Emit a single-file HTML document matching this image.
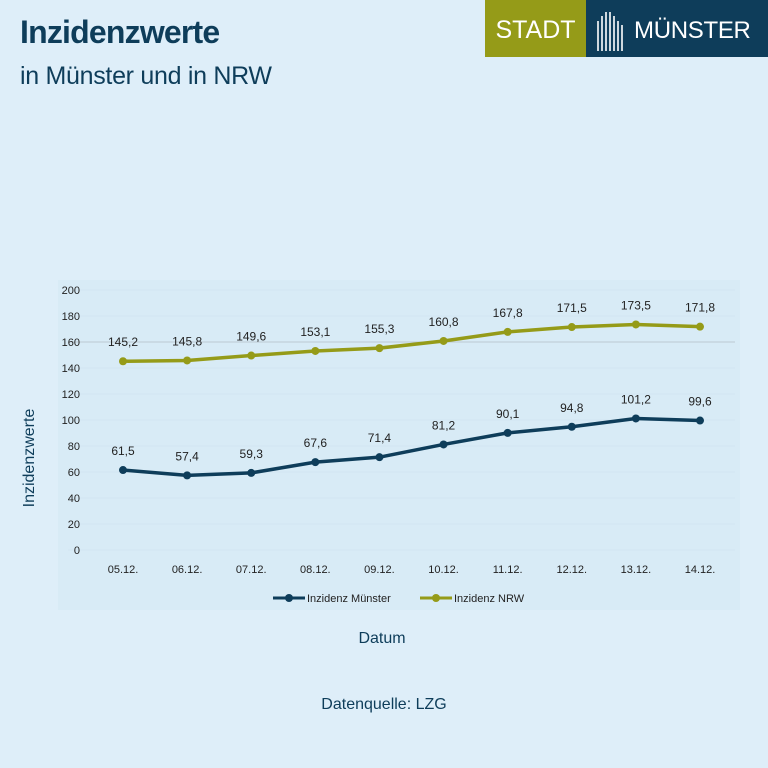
<!DOCTYPE html>
<html><head><meta charset="utf-8">
<style>
body{margin:0;width:768px;height:768px;background:#deeef9;font-family:"Liberation Sans",sans-serif;overflow:hidden;position:relative;color:#0e3d5a}
.abs{position:absolute}
</style></head><body>
<div class="abs" style="left:20px;top:14px;font-size:32px;font-weight:bold;color:#0e3d5a;letter-spacing:-0.8px">Inzidenzwerte</div>
<div class="abs" style="left:20px;top:62px;font-size:25px;color:#0e3d5a;letter-spacing:-0.3px">in Münster und in NRW</div>
<div class="abs" style="left:485px;top:0;width:283px;height:57px;display:flex">
  <div style="width:101px;background:#959b18;color:#fff;font-size:25px;display:flex;align-items:center;justify-content:center;padding-top:4px;box-sizing:border-box">STADT</div>
  <div style="flex:1;background:#0e3d5a;color:#fff;font-size:24px;display:flex;align-items:center;padding-top:4px;box-sizing:border-box;letter-spacing:-0.3px">
    <svg width="34" height="40" style="margin:0 6px 0 8px"><g stroke="#fff" stroke-width="1.6"><line x1="4" y1="10" x2="4" y2="40"/><line x1="8" y1="5" x2="8" y2="40"/><line x1="12" y1="1" x2="12" y2="40"/><line x1="16" y1="1" x2="16" y2="40"/><line x1="20" y1="5" x2="20" y2="40"/><line x1="24" y1="10" x2="24" y2="40"/><line x1="28" y1="14" x2="28" y2="40"/></g></svg>MÜNSTER</div>
</div>
<svg class="abs" style="left:0;top:0" width="768" height="768" id="chart">
  <rect x="58" y="280" width="682" height="330" fill="#d8ebf6"/>
  <g id="grid"></g><g id="lines"></g><g id="labels"></g>
  <text x="34" y="458" transform="rotate(-90 34 458)" text-anchor="middle" font-size="16" fill="#0e3d5a">Inzidenzwerte</text>
  <text x="382" y="643" text-anchor="middle" font-size="16" fill="#0e3d5a">Datum</text>
  <text x="384" y="709" text-anchor="middle" font-size="16" fill="#0e3d5a">Datenquelle: LZG</text>
  <g><line x1="273" y1="598" x2="305" y2="598" stroke="#0e3d5a" stroke-width="3"/><circle cx="289" cy="598" r="4" fill="#0e3d5a"/><text x="307" y="602" font-size="11" fill="#222">Inzidenz Münster</text></g>
  <g><line x1="420" y1="598" x2="452" y2="598" stroke="#959b18" stroke-width="3"/><circle cx="436" cy="598" r="4" fill="#959b18"/><text x="454" y="602" font-size="11" fill="#222">Inzidenz NRW</text></g>
</svg>
<script>
const categories=["05.12.","06.12.","07.12.","08.12.","09.12.","10.12.","11.12.","12.12.","13.12.","14.12."];
const muenster=[61.5,57.4,59.3,67.6,71.4,81.2,90.1,94.8,101.2,99.6];
const nrw=[145.2,145.8,149.6,153.1,155.3,160.8,167.8,171.5,173.5,171.8];
const yTicks=[0,20,40,60,80,100,120,140,160,180,200];
const NS="http://www.w3.org/2000/svg";
const x=i=>123+i*(700-123)/(categories.length-1);
const y=v=>550-v*1.3;
const fmt=v=>v.toFixed(1).replace('.',',');
function mk(tag,attrs,parent,txt){const e=document.createElementNS(NS,tag);for(const k in attrs)e.setAttribute(k,attrs[k]);if(txt!==undefined)e.textContent=txt;document.getElementById(parent).appendChild(e);return e;}
yTicks.forEach(t=>{
  const l=mk('line',{x1:68,x2:735,y1:y(t),y2:y(t),stroke:t===160?'#bcc9d2':'#d2e5f1','stroke-width':1},'grid');
  
  
  const tx=mk('text',{x:80,y:y(t)+4,'text-anchor':'end','font-size':11,fill:'#222'},'grid',t);
  
  
});
categories.forEach((c,i)=>{
  const tx=mk('text',{x:x(i),y:573,'text-anchor':'middle','font-size':11,fill:'#222'},'grid',c);
  
  
});
[[nrw,'#959b18','nrw'],[muenster,'#0e3d5a','muenster']].forEach(([s,col,nm])=>{
  const p=mk('polyline',{points:s.map((v,i)=>x(i)+','+y(v)).join(' '),fill:'none',stroke:col,'stroke-width':3.5,'stroke-linejoin':'round'},'lines');
  
  
  s.forEach((v,i)=>{
    const c=mk('circle',{cx:x(i),cy:y(v),r:4,fill:col},'lines');
    
    
    const t=mk('text',{x:x(i),y:y(v)-15,'text-anchor':'middle','font-size':12,fill:'#222'},'labels',fmt(v));
    
    
  });
});
</script>
</body></html>
